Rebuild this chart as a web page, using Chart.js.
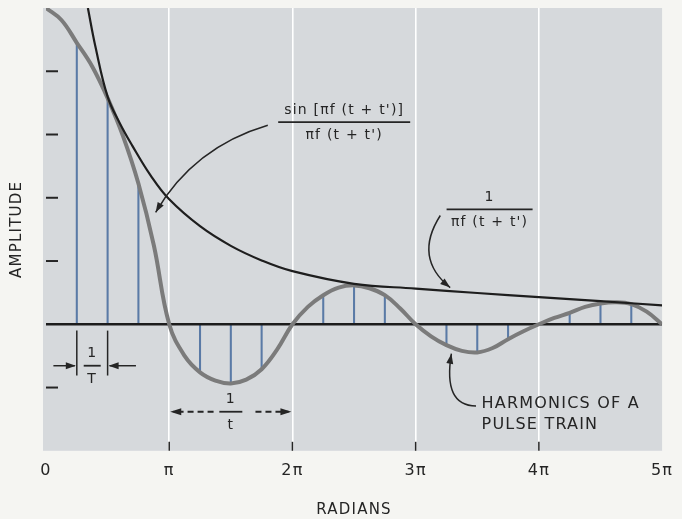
<!DOCTYPE html>
<html>
<head>
<meta charset="utf-8">
<script src="https://cdn.jsdelivr.net/npm/chart.js@4.4.1/dist/chart.umd.min.js"></script>
<style>
  html, body { margin:0; padding:0; background:#f5f5f2; }
  canvas { display:block; }
</style>
</head>
<body>
<canvas id="chart" width="682" height="519"></canvas>
<script>
// x values are in multiples of pi
const tickLabels = ['0', 'π', '2π', '3π', '4π', '5π'];

// sin(x)/x curve
const sincX = [0, 0.125, 0.25, 0.375, 0.5, 0.625, 0.75, 0.875, 1,
  1.125, 1.25, 1.375, 1.5, 1.625, 1.75, 1.875, 2,
  2.125, 2.25, 2.375, 2.5, 2.625, 2.75, 2.875, 3,
  3.125, 3.25, 3.375, 3.5, 3.625, 3.75, 3.875, 4,
  4.125, 4.25, 4.375, 4.5, 4.625, 4.75, 4.875, 5];
const sincY = [1.0, 0.962, 0.89, 0.815, 0.715, 0.595, 0.445, 0.25, 0,
  -0.1, -0.152, -0.178, -0.187, -0.175, -0.142, -0.08, 0,
  0.055, 0.092, 0.116, 0.123, 0.114, 0.092, 0.05, 0,
  -0.038, -0.066, -0.084, -0.089, -0.075, -0.047, -0.022, 0,
  0.02, 0.036, 0.055, 0.066, 0.07, 0.064, 0.04, 0];

// 1/x envelope
const recipX = [0.34, 0.4, 0.5, 0.6, 0.7, 0.85, 1, 1.25, 1.5, 1.75, 2, 2.5, 3, 3.5, 4, 4.5, 5];
const recipY = [1.0, 0.88, 0.72, 0.635, 0.565, 0.47, 0.395, 0.31, 0.248, 0.202, 0.168, 0.128, 0.113, 0.099, 0.086, 0.073, 0.06];

// harmonic lines
const harmX = [0.25, 0.5, 0.75, 1.25, 1.5, 1.75, 2.25, 2.5, 2.75, 3.25, 3.5, 3.75, 4.25, 4.5, 4.75];
const harmY = [0.89, 0.715, 0.44, -0.152, -0.187, -0.142, 0.092, 0.123, 0.092, -0.066, -0.089, -0.047, 0.036, 0.066, 0.064];

const zeroX = [0, 5];
const zeroY = [0, 0];

const FONT = "'DejaVu Sans', sans-serif";
const INK = '#252525';

function pts(xs, ys) { return xs.map((x, i) => ({ x: x, y: ys[i] })); }

// Hintergrund + Striche
const paperPlugin = {
  id: 'paper',
  beforeDraw(chart) {
    const { ctx, chartArea: a } = chart;
    ctx.letterSpacing = '1.2px';
    ctx.save();
    ctx.fillStyle = '#d6d9dc';
    ctx.fillRect(a.left - 3, a.top, a.right - a.left + 3, a.bottom - a.top);
    ctx.restore();
  },
  afterDraw(chart) {
    const { ctx, chartArea: a, scales } = chart;
    const xs = scales.x, ys = scales.y;
    ctx.save();
    ctx.strokeStyle = INK;
    // small dashes on the left
    ctx.lineWidth = 2;
    ys.ticks.forEach(t => {
      const v = Math.round(t.value * 10) / 10;
      if (v === 0 || v >= 1 || v <= -0.4) return;
      const py = ys.getPixelForValue(v);
      ctx.beginPath(); ctx.moveTo(a.left, py); ctx.lineTo(a.left + 12, py); ctx.stroke();
    });
    // small ticks at the bottom
    ctx.lineWidth = 1.5;
    xs.ticks.forEach(t => {
      if (t.value <= 0 || t.value >= 5) return;
      const px = xs.getPixelForValue(t.value);
      ctx.beginPath(); ctx.moveTo(px, a.bottom - 9); ctx.lineTo(px, a.bottom); ctx.stroke();
    });
    ctx.restore();
    drawNotes(chart);
  }
};

function arrowHead(ctx, fx, fy, tx, ty, len, w) {
  const ang = Math.atan2(ty - fy, tx - fx);
  ctx.beginPath();
  ctx.moveTo(tx, ty);
  ctx.lineTo(tx - len * Math.cos(ang) + w * Math.sin(ang), ty - len * Math.sin(ang) - w * Math.cos(ang));
  ctx.lineTo(tx - len * Math.cos(ang) - w * Math.sin(ang), ty - len * Math.sin(ang) + w * Math.cos(ang));
  ctx.closePath();
  ctx.fill();
}

function fraction(ctx, cx, cy, w, num, den, size) {
  ctx.font = size + 'px ' + FONT;
  ctx.textAlign = 'center';
  ctx.textBaseline = 'middle';
  ctx.fillText(num, cx, cy - size * 0.85);
  ctx.fillText(den, cx, cy + size * 0.95);
  ctx.lineWidth = 1.8;
  ctx.beginPath(); ctx.moveTo(cx - w / 2, cy); ctx.lineTo(cx + w / 2, cy); ctx.stroke();
}

function curveArrow(ctx, p0, c, p1) {
  ctx.lineWidth = 1.5;
  ctx.beginPath(); ctx.moveTo(p0[0], p0[1]); ctx.quadraticCurveTo(c[0], c[1], p1[0], p1[1]); ctx.stroke();
  arrowHead(ctx, c[0], c[1], p1[0], p1[1], 10, 3.5);
}

function drawNotes(chart) {
  const { ctx, scales } = chart;
  const P = (x, y) => [scales.x.getPixelForValue(x), scales.y.getPixelForValue(y)];
  ctx.save();
  ctx.fillStyle = INK;
  ctx.strokeStyle = INK;

  // sin / x label
  let c = P(2.42, 0.639);
  fraction(ctx, c[0], c[1], 132, "sin [πf (t + t')]", "πf (t + t')", 14);
  curveArrow(ctx, P(1.8, 0.629), P(1.2, 0.56), P(0.89, 0.354));

  // 1 / x label
  c = P(3.6, 0.363);
  fraction(ctx, c[0], c[1], 86, "1", "πf (t + t')", 14);
  curveArrow(ctx, P(3.2, 0.344), P(2.98, 0.21), P(3.28, 0.116));

  // harmonics label
  c = P(3.535, -0.25);
  ctx.font = '16px ' + FONT;
  ctx.textAlign = 'left';
  ctx.textBaseline = 'middle';
  ctx.fillText('HARMONICS OF A', c[0], c[1]);
  ctx.fillText('PULSE TRAIN', c[0], c[1] + 21);
  curveArrow(ctx, P(3.49, -0.258), P(3.22, -0.258), P(3.29, -0.093));

  // 1/T marker
  ctx.lineWidth = 1.5;
  [0.25, 0.5].forEach(x => {
    const a = P(x, -0.02), b = P(x, -0.162);
    ctx.beginPath(); ctx.moveTo(a[0], a[1]); ctx.lineTo(b[0], b[1]); ctx.stroke();
  });
  let l0 = P(0.06, -0.131), l1 = P(0.25, -0.131);
  ctx.beginPath(); ctx.moveTo(l0[0], l0[1]); ctx.lineTo(l1[0] - 2, l1[1]); ctx.stroke();
  arrowHead(ctx, l0[0], l0[1], l1[0] - 1, l1[1], 10, 3.5);
  let r0 = P(0.73, -0.131), r1 = P(0.5, -0.131);
  ctx.beginPath(); ctx.moveTo(r0[0], r0[1]); ctx.lineTo(r1[0] + 2, r1[1]); ctx.stroke();
  arrowHead(ctx, r0[0], r0[1], r1[0] + 1, r1[1], 10, 3.5);
  c = P(0.375, -0.131);
  fraction(ctx, c[0], c[1], 17, '1', 'T', 14);

  // 1/t marker (dashed)
  ctx.setLineDash([6, 4]);
  l0 = P(1.36, -0.2765); l1 = P(1.0, -0.2765);
  ctx.beginPath(); ctx.moveTo(l0[0], l0[1]); ctx.lineTo(l1[0] + 4, l1[1]); ctx.stroke();
  r0 = P(1.7, -0.2765); r1 = P(2.0, -0.2765);
  ctx.beginPath(); ctx.moveTo(r0[0], r0[1]); ctx.lineTo(r1[0] - 4, r1[1]); ctx.stroke();
  ctx.setLineDash([]);
  arrowHead(ctx, l0[0], l0[1], l1[0] + 1, l1[1], 11, 3.5);
  arrowHead(ctx, r0[0], r0[1], r1[0] - 1, r1[1], 11, 3.5);
  c = P(1.5, -0.2765);
  fraction(ctx, c[0], c[1], 23, '1', 't', 14);

  ctx.restore();
}

new Chart(document.getElementById('chart').getContext('2d'), {
  type: 'line',
  data: {
    datasets: [
      { type: 'bar', data: pts(harmX, harmY), backgroundColor: '#5a7aa6', barThickness: 1.4, order: 4 },
      { data: pts(zeroX, zeroY), borderColor: '#1c1c1c', borderWidth: 2.5, pointRadius: 0, order: 3 },
      { data: pts(sincX, sincY), borderColor: '#7b7b7b', borderWidth: 4, pointRadius: 0,
        tension: 0.4, order: 2 },
      { data: pts(recipX, recipY), borderColor: '#1e1e1e', borderWidth: 2.2, pointRadius: 0,
        tension: 0.4, order: 1 }
    ]
  },
  options: {
    responsive: false,
    animation: false,
    layout: { padding: { left: 4, right: 19, top: 8, bottom: 0 } },
    plugins: { legend: { display: false }, tooltip: { enabled: false } },
    scales: {
      x: {
        type: 'linear', min: 0, max: 5, offset: false,
        ticks: { stepSize: 1, callback: v => tickLabels[v], font: { family: FONT, size: 16 }, color: INK, padding: 10, maxRotation: 0 },
        grid: { offset: false, color: ctx => (ctx.tick && ctx.tick.value > 0 && ctx.tick.value < 5) ? '#ffffff' : 'rgba(0,0,0,0)', lineWidth: 1.6, drawTicks: false },
        border: { display: false },
        title: { display: true, text: 'RADIANS', font: { family: FONT, size: 15 }, color: INK, padding: { top: 11, bottom: 0 } }
      },
      y: {
        min: -0.4, max: 1.0,
        ticks: { display: false, stepSize: 0.2 },
        grid: { display: false, drawTicks: false },
        border: { display: false },
        title: { display: true, text: 'AMPLITUDE', font: { family: FONT, size: 15 }, color: INK, padding: { top: 4, bottom: 20 } }
      }
    }
  },
  plugins: [paperPlugin]
});
</script>
</body>
</html>
